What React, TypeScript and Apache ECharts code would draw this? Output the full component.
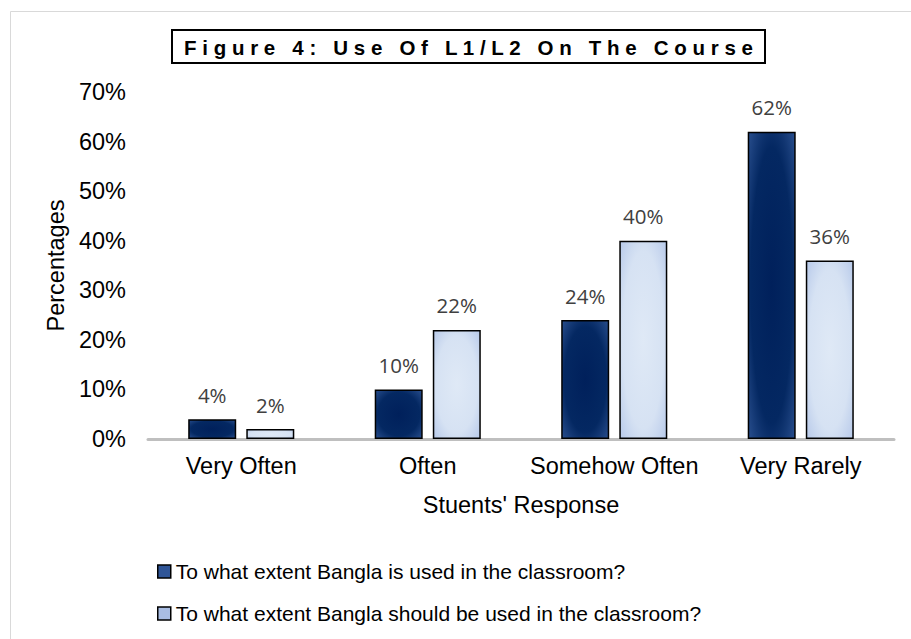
import React, { useEffect, useRef } from "react";
import * as echarts from "echarts";

const categories = ["Very Often", "Often", "Somehow Often", "Very Rarely"];
const seriesNames = [
  "To what extent Bangla is used in the classroom?",
  "To what extent Bangla should be used in the classroom?",
];
const isUsed = [4, 10, 24, 62];
const shouldBeUsed = [2, 22, 40, 36];
const yTicks = { min: 0, max: 70, interval: 10 };
const titleText = "Figure 4: Use Of L1/L2 On The Course";
const xName = "Stuents' Response";
const yName = "Percentages";

const ARIAL = "'Liberation Sans', Arial, sans-serif";
const CAL = "'Open Sans', 'Noto Sans', sans-serif";

function spaced(t: string) {
  return t
    .split(" ")
    .map((w) => w.split("").join(" "))
    .join("   ");
}

export default function App() {
  const ref = useRef<HTMLDivElement>(null);
  useEffect(() => {
    if (!ref.current) return;
    const chart = echarts.init(ref.current, null, { renderer: "svg" });
    const darkFill = {
      type: "radial",
      x: 0.5,
      y: 0.5,
      r: 0.75,
      colorStops: [
        { offset: 0, color: "#00205b" },
        { offset: 0.6, color: "#042862" },
        { offset: 1, color: "#2f5595" },
      ],
    };
    const lightFill = {
      type: "radial",
      x: 0.5,
      y: 0.5,
      r: 0.75,
      colorStops: [
        { offset: 0, color: "#dfe9f6" },
        { offset: 0.6, color: "#d6e2f3" },
        { offset: 1, color: "#b2c5e8" },
      ],
    };
    const label = {
      show: true,
      position: "top",
      distance: 14,
      formatter: "{c}%",
      color: "#404040",
      fontFamily: CAL,
      fontSize: 20.5,
    };
    chart.setOption({
      animation: false,
      backgroundColor: "#ffffff",
      graphic: [
        {
          type: "rect",
          shape: { x: 10.5, y: 11.5, width: 905, height: 640 },
          style: { fill: "none", stroke: "#d9d9d9", lineWidth: 1 },
          silent: true,
        },
        {
          type: "rect",
          shape: { x: 172, y: 30, width: 593, height: 33 },
          style: { fill: "#fff", stroke: "#000", lineWidth: 2 },
          silent: true,
        },
        {
          type: "text",
          x: 468.5,
          y: 47,
          style: {
            text: spaced(titleText),
            fontFamily: ARIAL,
            fontWeight: "bold",
            fontSize: 20.5,
            fill: "#000",
            align: "center",
            verticalAlign: "middle",
          },
          silent: true,
        },
      ],
      legend: {
        orient: "vertical",
        left: 157,
        top: 561,
        padding: 0,
        itemWidth: 13,
        itemHeight: 13,
        itemGap: 21,
        icon: "rect",
        textStyle: { fontFamily: ARIAL, fontSize: 21, color: "#000" },
        data: [
          {
            name: seriesNames[0],
            itemStyle: { color: "#2f5597", borderColor: "#000", borderWidth: 1.5 },
          },
          {
            name: seriesNames[1],
            itemStyle: { color: "#a9bde3", borderColor: "#000", borderWidth: 1.5 },
          },
        ],
      },
      grid: { left: 148, right: 17, top: 92, bottom: 200, containLabel: false },
      xAxis: {
        type: "category",
        data: categories,
        name: xName,
        nameLocation: "middle",
        nameGap: 54,
        nameTextStyle: { fontFamily: ARIAL, fontSize: 23.5, color: "#000" },
        axisLine: { lineStyle: { color: "#bfbfbf", width: 3 } },
        axisTick: { show: false },
        axisLabel: {
          interval: 0,
          fontFamily: ARIAL,
          fontSize: 23.5,
          color: "#000",
          margin: 15,
        },
      },
      yAxis: {
        type: "value",
        min: yTicks.min,
        max: yTicks.max,
        interval: yTicks.interval,
        name: yName,
        nameLocation: "middle",
        nameGap: 74,
        nameTextStyle: { fontFamily: ARIAL, fontSize: 23.5, color: "#000" },
        axisLine: { show: false },
        axisTick: { show: false },
        splitLine: { show: false },
        axisLabel: {
          formatter: "{value}%",
          fontFamily: ARIAL,
          fontSize: 23.5,
          color: "#000",
          margin: 22,
        },
      },
      series: [
        {
          name: seriesNames[0],
          type: "bar",
          data: isUsed,
          barWidth: 48,
          barGap: "21%",
          itemStyle: { color: darkFill, borderColor: "#000", borderWidth: 1.5 },
          label,
        },
        {
          name: seriesNames[1],
          type: "bar",
          data: shouldBeUsed,
          barWidth: 48,
          barGap: "21%",
          itemStyle: { color: lightFill, borderColor: "#000", borderWidth: 1.5 },
          label,
        },
      ],
    });
    return () => chart.dispose();
  }, []);
  return (
    <div
      ref={ref}
      style={{ position: "fixed", left: 0, top: 0, width: 911, height: 639 }}
    />
  );
}
